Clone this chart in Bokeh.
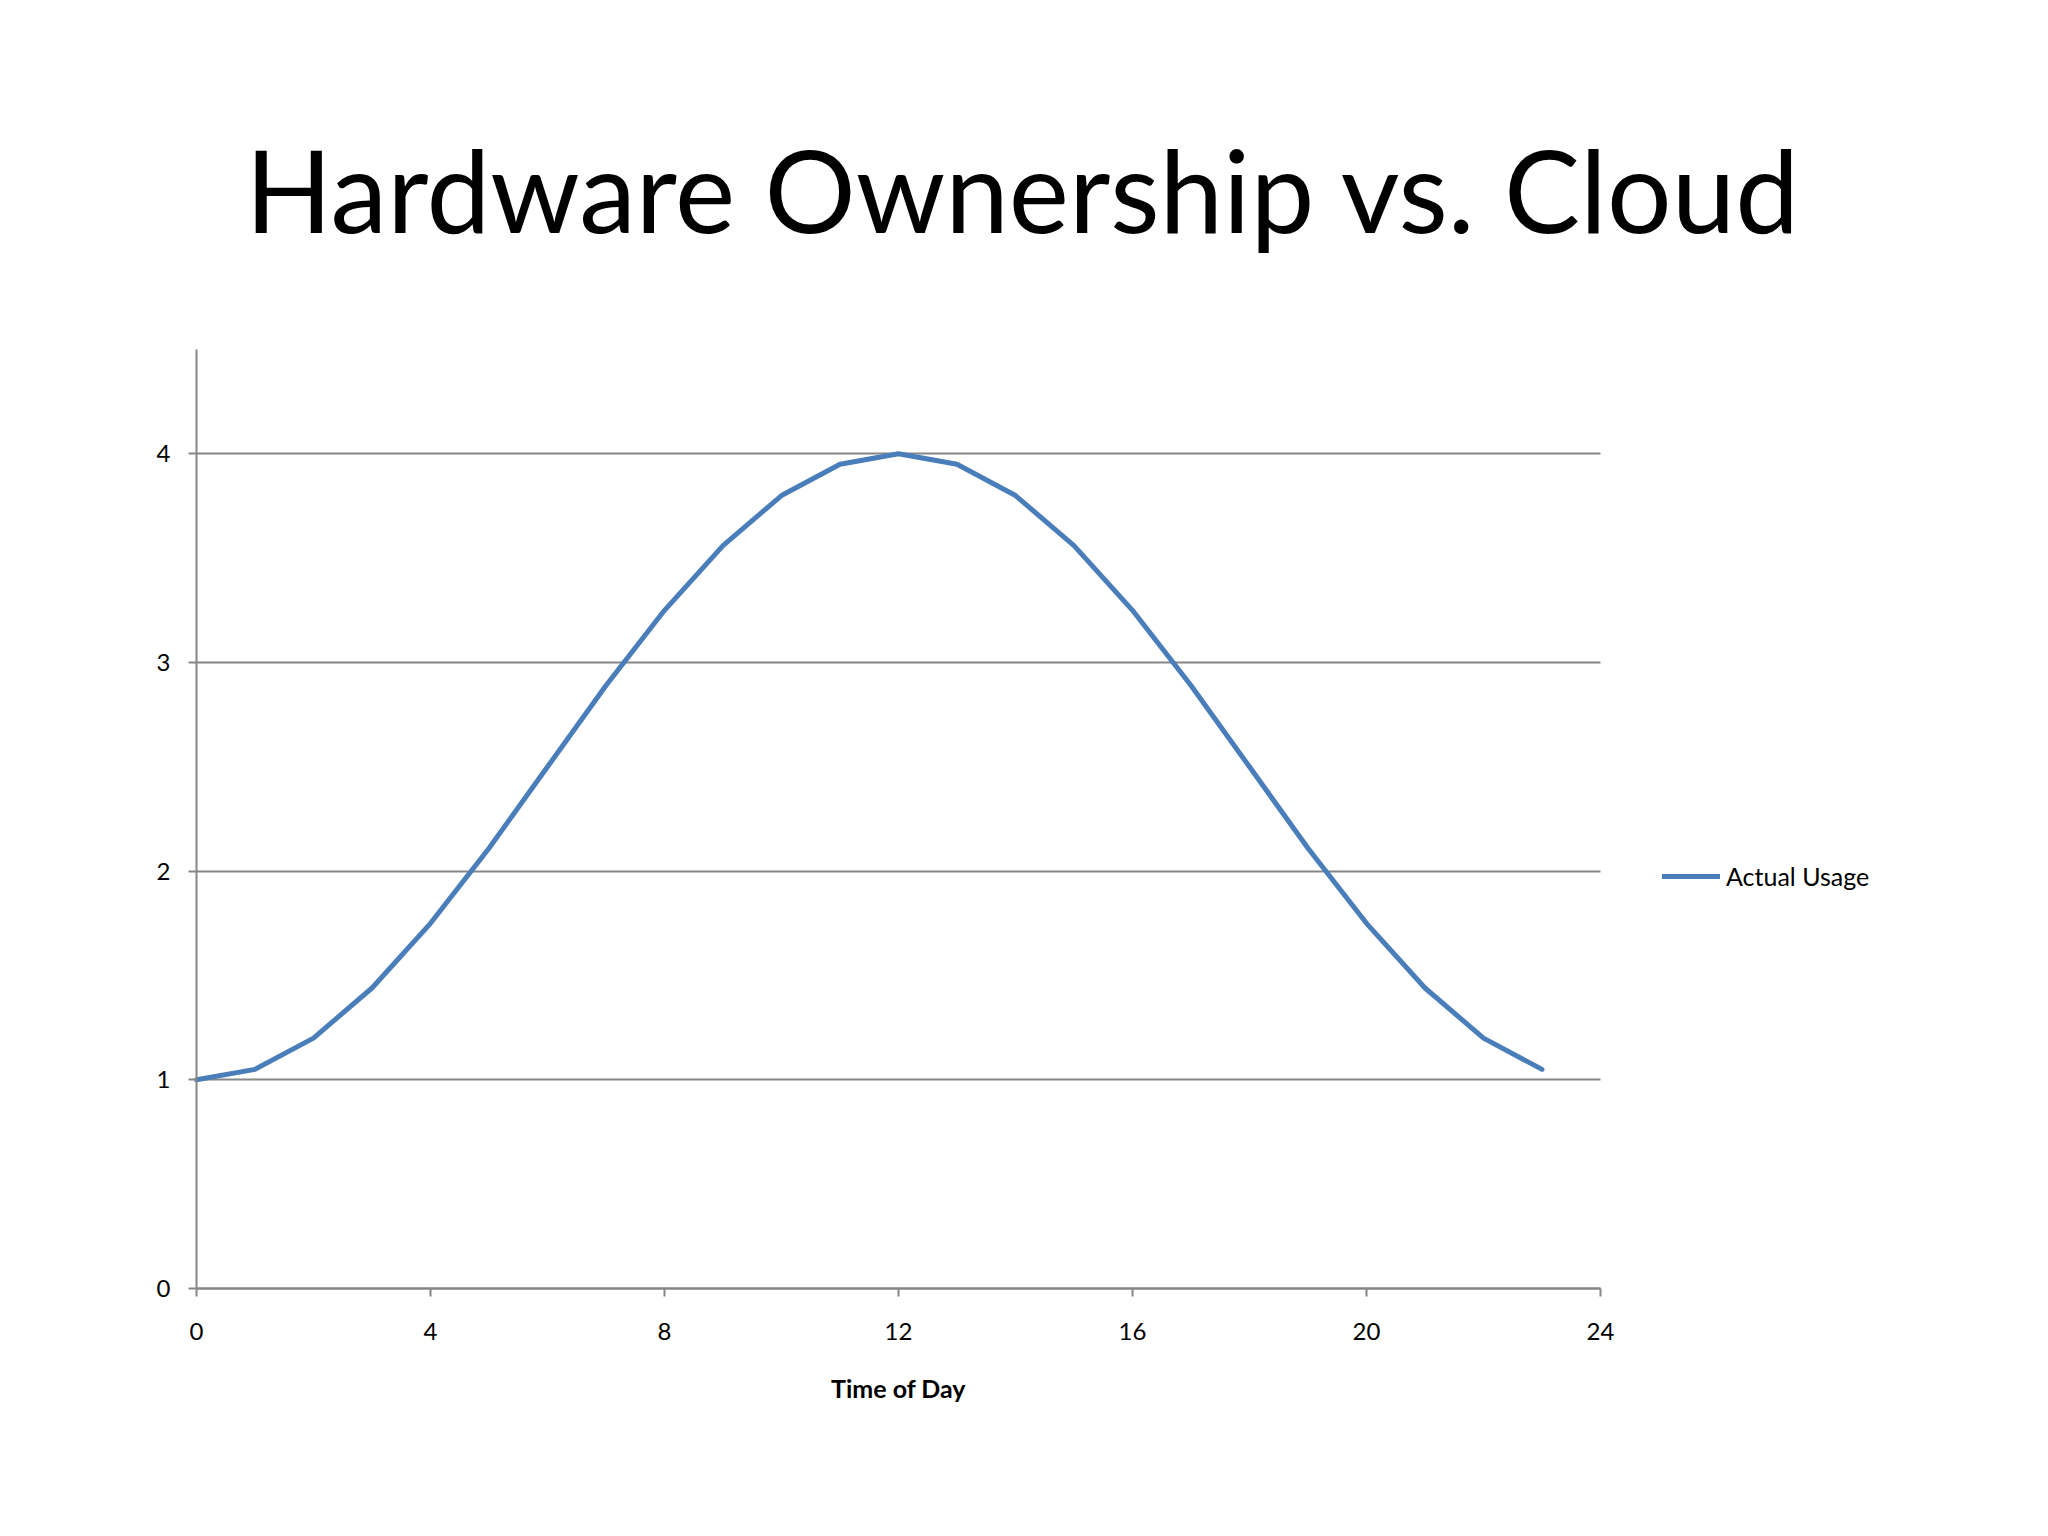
from bokeh.plotting import figure
from bokeh.models import Legend, LegendItem, FixedTicker, Range1d, Label
from bokeh.embed import file_html
from bokeh.resources import INLINE

# ---- data ----
title_text = "Hardware Ownership vs. Cloud"
x_label = "Time of Day"
series_name = "Actual Usage"
hours = [0, 1, 2, 3, 4, 5, 6, 7, 8, 9, 10, 11, 12, 13, 14, 15, 16, 17, 18, 19, 20, 21, 22, 23]
usage = [1.00, 1.05, 1.20, 1.44, 1.75, 2.11, 2.50, 2.89, 3.25, 3.56, 3.80, 3.95,
         4.00, 3.95, 3.80, 3.56, 3.25, 2.89, 2.50, 2.11, 1.75, 1.44, 1.20, 1.05]
x_ticks = [0, 4, 8, 12, 16, 20, 24]
y_ticks = [0, 1, 2, 3, 4]
x_bounds = (0, 24)
y_bounds = (0, 4.5)

FONT = "Lato"
AXIS_GRAY = "#868686"
LINE_BLUE = "#4A7EBB"

# canvas and the pixel box of the 0-24 x 0-4.5 chart area inside it
W, H = 2040, 1528
AREA_L, AREA_R, AREA_T, AREA_B = 196, 1600, 349, 1288
px_x = (AREA_R - AREA_L) / (x_bounds[1] - x_bounds[0])
px_y = (AREA_B - AREA_T) / (y_bounds[1] - y_bounds[0])

p = figure(width=W, height=H, output_backend="svg", toolbar_location=None,
           x_range=Range1d(-AREA_L / px_x, (W - AREA_L) / px_x),
           y_range=Range1d(-(H - AREA_B) / px_y, AREA_B / px_y),
           min_border=0, min_border_left=0, min_border_right=0,
           min_border_top=0, min_border_bottom=0,
           background_fill_color="white", border_fill_color="white")
p.outline_line_color = None

r = p.line(hours, usage, line_color=LINE_BLUE, line_width=5,
           line_cap="round", line_join="round")

# axes drawn at fixed positions inside the canvas
for ax in (p.xaxis[0], p.yaxis[0]):
    ax.fixed_location = 0
    ax.axis_line_color = AXIS_GRAY
    ax.axis_line_width = 2
    ax.major_tick_line_color = AXIS_GRAY
    ax.major_tick_line_width = 2
    ax.major_tick_in = 0
    ax.major_tick_out = 8
    ax.minor_tick_line_color = None
    ax.major_label_text_font = FONT
    ax.major_label_text_font_size = "24px"
    ax.major_label_text_color = "black"

p.xaxis[0].bounds = x_bounds
p.yaxis[0].bounds = y_bounds
p.xaxis[0].ticker = FixedTicker(ticks=x_ticks)
p.yaxis[0].ticker = FixedTicker(ticks=y_ticks)
p.xaxis[0].major_label_standoff = 26
p.yaxis[0].major_label_standoff = 18

p.xgrid.grid_line_color = None
p.ygrid.ticker = FixedTicker(ticks=y_ticks)
p.ygrid.grid_line_color = AXIS_GRAY
p.ygrid.grid_line_width = 2
grid = p.ygrid[0]
if "cross_bounds" in grid.properties():
    grid.cross_bounds = x_bounds
else:
    grid.grid_line_color = None
    p.segment(x0=[x_bounds[0]] * len(y_ticks[1:]), x1=[x_bounds[1]] * len(y_ticks[1:]),
              y0=y_ticks[1:], y1=y_ticks[1:], line_color=AXIS_GRAY, line_width=2,
              level="underlay")

# x-axis title, centred on the 0-24 span
p.add_layout(Label(x=(x_bounds[0] + x_bounds[1]) / 2, y=H - 1387, x_units="data", y_units="screen",
                   text=x_label, text_font=FONT, text_font_size="25px", text_font_style="bold",
                   text_align="center", text_baseline="alphabetic", text_color="black"))

# chart title
p.add_layout(Label(x=1023, y=H - 188, x_units="screen", y_units="screen",
                   text=title_text, text_font=FONT, text_font_size="114px",
                   text_align="center", text_baseline="alphabetic", text_color="black"))

# legend
legend = Legend(items=[LegendItem(label=series_name, renderers=[r])],
                location=(1662, H - 878 - 13), orientation="vertical",
                glyph_width=58, glyph_height=26, label_height=26,
                label_standoff=6, padding=0, margin=0, spacing=0,
                label_text_font=FONT, label_text_font_size="25px",
                label_text_color="black",
                border_line_alpha=0, background_fill_alpha=0)
p.add_layout(legend, "center")

open("out.html", "w").write(file_html(p, INLINE))
